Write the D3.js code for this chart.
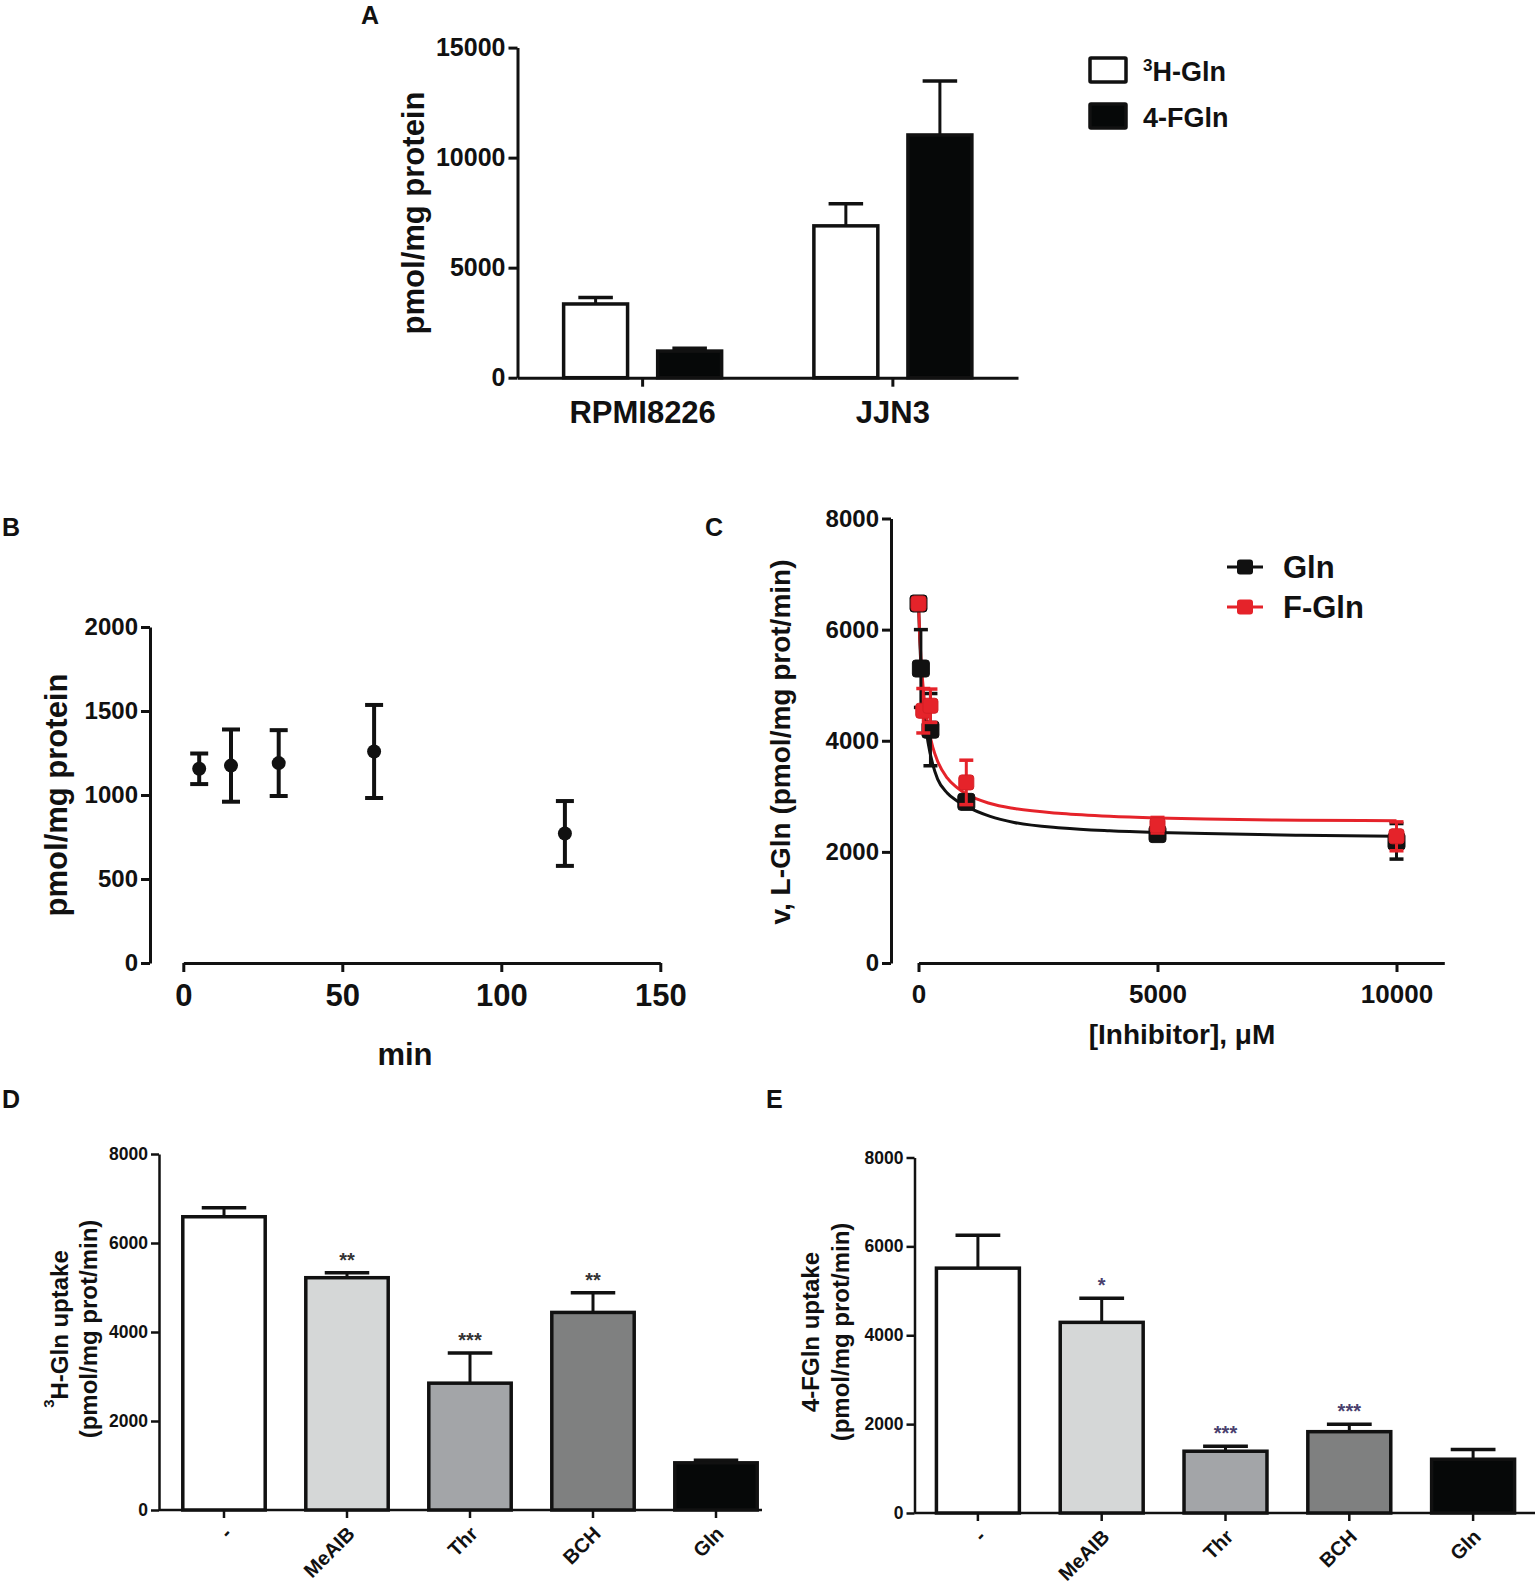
<!DOCTYPE html>
<html><head><meta charset="utf-8">
<script src="https://cdn.jsdelivr.net/npm/d3@7"></script>
<style>
body{margin:0;background:#fff}
svg{display:block}
text{font-family:'Liberation Sans',Arial,Helvetica,sans-serif;font-weight:bold;fill:#111}
</style>
</head><body>
<svg id="fig" width="1535" height="1588"></svg>
<script>
// ---------------- DATA ----------------
// Panel A
const cellLines = ["RPMI8226", "JJN3"];
const tracersA = ["3H-Gln", "4-FGln"];
const uptakeA_3HGln = [3350, 6900];
const uptakeA_3HGln_err = [290, 1000];
const uptakeA_4FGln = [1210, 11030];
const uptakeA_4FGln_err = [125, 2450];
const ticksAy = [0, 5000, 10000, 15000];

// Panel B
const timeB = [5, 15, 30, 60, 120];
const uptakeB = [1156, 1175, 1190, 1259, 771];
const uptakeB_err = [91, 215, 196, 277, 193];
const ticksBy = [0, 500, 1000, 1500, 2000];
const ticksBx = [0, 50, 100, 150];

// Panel C
const concGln = [0, 50, 250, 1000, 5000, 10000];
const vGln = [6470, 5300, 4200, 2900, 2320, 2190];
const vGln_err = [0, 700, 650, 100, 80, 320];
const concFGln = [0, 100, 250, 1000, 5000, 10000];
const vFGln = [6470, 4540, 4630, 3250, 2480, 2280];
const vFGln_err = [0, 400, 300, 400, 140, 260];
const fitConc = [0, 25, 50, 100, 150, 200, 300, 400, 600, 800, 1000, 1500, 2000, 3000, 4000, 5000, 6000, 8000, 10000];
const fitGln  = [6470, 5830, 5350, 4700, 4270, 3970, 3570, 3310, 3060, 2920, 2820, 2640, 2530, 2430, 2380, 2350, 2330, 2300, 2280];
const fitFGln = [6470, 5920, 5500, 4930, 4550, 4260, 3880, 3630, 3330, 3160, 3040, 2870, 2780, 2690, 2640, 2610, 2590, 2570, 2560];
const seriesC = ["Gln", "F-Gln"];
const ticksCy = [0, 2000, 4000, 6000, 8000];
const ticksCx = [0, 5000, 10000];

// Panel D
const inhibitors = ["-", "MeAIB", "Thr", "BCH", "Gln"];
const uptakeD = [6590, 5220, 2850, 4440, 1060];
const uptakeD_err = [200, 110, 680, 440, 60];
const sigD = ["", "**", "***", "**", ""];
// Panel E
const uptakeE = [5510, 4290, 1390, 1830, 1210];
const uptakeE_err = [740, 540, 110, 170, 220];
const sigE = ["", "*", "***", "***", ""];
const ticksDEy = [0, 2000, 4000, 6000, 8000];

// ---------------- DRAW ----------------
const INK = "#111";
const svg = d3.select("#fig");
const barFills = ["#ffffff", "#d5d7d7", "#a3a5a8", "#7f8080", "#060808"];

function styleAxis(a, sw, fs) {
  a.select(".domain").attr("stroke", INK).attr("stroke-width", sw);
  a.selectAll(".tick line").attr("stroke", INK).attr("stroke-width", sw);
  a.selectAll(".tick text").attr("font-size", fs).attr("fill", INK);
}
function yAxis(scale, x, ticks, fs, sw, tl, pad) {
  const a = svg.append("g").attr("transform", `translate(${x},0)`)
    .call(d3.axisLeft(scale).tickValues(ticks).tickSize(tl).tickSizeOuter(0).tickPadding(pad).tickFormat(d3.format("d")));
  styleAxis(a, sw, fs);
  return a;
}
function panelLetter(t, x, y) {
  svg.append("text").attr("x", x).attr("y", y).attr("font-size", 25).text(t);
}
function rotLabel(x, y, fs, parts) {
  const t = svg.append("text").attr("transform", `translate(${x},${y}) rotate(-90)`)
    .attr("text-anchor", "middle").attr("dominant-baseline", "central").attr("font-size", fs);
  parts.forEach(p => {
    const s = t.append("tspan").text(p.t);
    if (p.sup) s.attr("font-size", fs * 0.62).attr("dy", -fs * 0.4);
    if (p.after) s.attr("dy", fs * 0.4);
  });
  return t;
}

// ===== Panel A =====
panelLetter("A", 361, 24);
const yA = d3.scaleLinear().domain([0, 15000]).range([377.7, 47.6]);
const xA = d3.scaleBand().domain(cellLines).range([517.5, 1018]);
const xAin = d3.scaleBand().domain(tracersA).range([-79, 79]).paddingInner(0.32);
yAxis(yA, 517.5, ticksAy, 25, 3, 9, 3);
{
  const a = svg.append("g").attr("transform", `translate(0,${yA(0)})`)
    .call(d3.axisBottom(xA).tickSize(9).tickSizeOuter(0).tickPadding(8));
  styleAxis(a, 3, 31);
  a.selectAll(".tick text").attr("dy", "0.9em");
}
const valsA = [uptakeA_3HGln, uptakeA_4FGln];
const errsA = [uptakeA_3HGln_err, uptakeA_4FGln_err];
const fillA = ["#ffffff", "#060808"];
tracersA.forEach((tr, si) => {
  cellLines.forEach((c, ci) => {
    const cx = xA(c) + xA.bandwidth() / 2 + xAin(tr);
    const w = xAin.bandwidth();
    const v = valsA[si][ci], e = errsA[si][ci];
    const g = svg.append("g");
    g.append("line").attr("x1", cx + w / 2).attr("x2", cx + w / 2).attr("y1", yA(v)).attr("y2", yA(v + e))
      .attr("stroke", INK).attr("stroke-width", 3);
    g.append("line").attr("x1", cx + w / 2 - w * 0.27).attr("x2", cx + w / 2 + w * 0.27).attr("y1", yA(v + e)).attr("y2", yA(v + e))
      .attr("stroke", INK).attr("stroke-width", 3.5);
    g.append("rect").attr("x", cx).attr("y", yA(v)).attr("width", w).attr("height", yA(0) - yA(v))
      .attr("fill", fillA[si]).attr("stroke", INK).attr("stroke-width", 3.5);
  });
});
// legend A
tracersA.forEach((tr, i) => {
  const y0 = 58 + i * 46;
  svg.append("rect").attr("x", 1090).attr("y", y0).attr("width", 36).attr("height", 24)
    .attr("fill", fillA[i]).attr("stroke", INK).attr("stroke-width", 3.5).attr("rx", 1);
  const t = svg.append("text").attr("x", 1143).attr("y", y0 + 23).attr("font-size", 27);
  if (tr.startsWith("3H")) {
    t.append("tspan").text("3").attr("font-size", 17).attr("dy", -10);
    t.append("tspan").text(tr.slice(1)).attr("dy", 10);
  } else t.text(tr);
});
rotLabel(413, 213, 31, [{t: "pmol/mg protein"}]);

// ===== Panel B =====
panelLetter("B", 2, 536);
const yB = d3.scaleLinear().domain([0, 2000]).range([963, 627]);
const xB = d3.scaleLinear().domain([0, 150]).range([183.3, 660.3]);
yAxis(yB, 150, ticksBy, 24, 3, 9, 3);
{
  const a = svg.append("g").attr("transform", `translate(0,${yB(0)})`)
    .call(d3.axisBottom(xB).tickValues(ticksBx).tickSize(9).tickSizeOuter(0).tickPadding(8).tickFormat(d3.format("d")));
  styleAxis(a, 3, 31);
  a.selectAll(".tick text").attr("dy", "0.85em");
}
timeB.forEach((t, i) => {
  const x = xB(t), v = uptakeB[i], e = uptakeB_err[i];
  svg.append("line").attr("x1", x).attr("x2", x).attr("y1", yB(v - e)).attr("y2", yB(v + e)).attr("stroke", INK).attr("stroke-width", 4);
  [v - e, v + e].forEach(q => svg.append("line").attr("x1", x - 9).attr("x2", x + 9).attr("y1", yB(q)).attr("y2", yB(q)).attr("stroke", INK).attr("stroke-width", 4));
  svg.append("circle").attr("cx", x).attr("cy", yB(v)).attr("r", 7).attr("fill", INK);
});
svg.append("text").attr("x", 405).attr("y", 1065).attr("text-anchor", "middle").attr("font-size", 31).text("min");
rotLabel(56, 795, 31, [{t: "pmol/mg protein"}]);

// ===== Panel C =====
panelLetter("C", 705, 536);
const yC = d3.scaleLinear().domain([0, 8000]).range([963, 518.5]);
const xC = d3.scaleLinear().domain([0, 11000]).range([918.5, 1444.3]);
yAxis(yC, 891, ticksCy, 24, 3, 9, 3);
{
  const a = svg.append("g").attr("transform", `translate(0,${yC(0)})`)
    .call(d3.axisBottom(xC).tickValues(ticksCx).tickSize(9).tickSizeOuter(0).tickPadding(8).tickFormat(d3.format("d")));
  styleAxis(a, 3, 26);
  a.selectAll(".tick text").attr("dy", "0.9em");
}
const colC = ["#111111", "#e5232a"];
const lineC = d3.line().x(d => xC(d[0])).y(d => yC(d[1])).curve(d3.curveMonotoneX);
[fitGln, fitFGln].forEach((f, si) => {
  svg.append("path").datum(fitConc.map((c, i) => [c, f[i]])).attr("d", lineC)
    .attr("fill", "none").attr("stroke", colC[si]).attr("stroke-width", 3);
});
[[concGln, vGln, vGln_err], [concFGln, vFGln, vFGln_err]].forEach((s, si) => {
  const [cs, vs, es] = s;
  const sz = si === 0 ? 17 : 15;
  cs.forEach((c, i) => {
    const x = xC(c), v = vs[i], e = es[i];
    if (e > 0) {
      svg.append("line").attr("x1", x).attr("x2", x).attr("y1", yC(v - e)).attr("y2", yC(v + e)).attr("stroke", colC[si]).attr("stroke-width", 3);
      [v - e, v + e].forEach(q => svg.append("line").attr("x1", x - 7).attr("x2", x + 7).attr("y1", yC(q)).attr("y2", yC(q)).attr("stroke", colC[si]).attr("stroke-width", 3.5));
    }
    svg.append("rect").attr("x", x - sz / 2).attr("y", yC(v) - sz / 2).attr("width", sz).attr("height", sz)
      .attr("rx", 3).attr("fill", colC[si]).attr("stroke", si === 0 ? "#111" : "#d41f25").attr("stroke-width", 1);
  });
});
// legend C
seriesC.forEach((s, i) => {
  const y = 567 + i * 40;
  svg.append("line").attr("x1", 1227).attr("x2", 1263).attr("y1", y).attr("y2", y).attr("stroke", colC[i]).attr("stroke-width", 3);
  svg.append("rect").attr("x", 1237).attr("y", y - 7.5).attr("width", 16).attr("height", 15).attr("rx", 3).attr("fill", colC[i]);
  svg.append("text").attr("x", 1283).attr("y", y + 11).attr("font-size", 31).text(s);
});
svg.append("text").attr("x", 1182).attr("y", 1044).attr("text-anchor", "middle").attr("font-size", 28).text("[Inhibitor], \u03bcM");
rotLabel(780, 742, 28, [{t: "v, L-Gln (pmol/mg prot/min)"}]);

// ===== Panels D & E =====
function barPanel(opt) {
  const y = d3.scaleLinear().domain([0, 8000]).range([opt.y0, opt.y8]);
  const x = d3.scaleBand().domain(inhibitors).range(opt.xr).paddingInner(0.33).paddingOuter(0.165);
  yAxis(y, opt.ax, ticksDEy, 17.5, 2.5, 8, 3);
  svg.append("line").attr("x1", opt.ax).attr("x2", opt.xEnd).attr("y1", opt.y0).attr("y2", opt.y0).attr("stroke", INK).attr("stroke-width", 2.5);
  const a = svg.append("g").attr("transform", `translate(0,${opt.y0})`)
    .call(d3.axisBottom(x).tickSize(8).tickSizeOuter(0));
  a.select(".domain").remove();
  a.selectAll(".tick line").attr("stroke", INK).attr("stroke-width", 2.5);
  a.selectAll(".tick text").attr("font-size", 20).attr("fill", INK)
    .attr("text-anchor", "end").attr("dy", null).attr("y", 0)
    .attr("transform", "translate(9,25) rotate(-45)");
  const w = x.bandwidth();
  inhibitors.forEach((c, i) => {
    const x0 = x(c), v = opt.vals[i], e = opt.errs[i];
    const cx = x0 + w / 2;
    svg.append("line").attr("x1", cx).attr("x2", cx).attr("y1", y(v)).attr("y2", y(v + e)).attr("stroke", INK).attr("stroke-width", 3);
    svg.append("line").attr("x1", cx - w * 0.27).attr("x2", cx + w * 0.27).attr("y1", y(v + e)).attr("y2", y(v + e)).attr("stroke", INK).attr("stroke-width", 3.5);
    svg.append("rect").attr("x", x0).attr("y", y(v)).attr("width", w).attr("height", opt.y0 - y(v))
      .attr("fill", barFills[i]).attr("stroke", INK).attr("stroke-width", 3.5);
    if (opt.sig[i]) {
      svg.append("text").attr("x", cx).attr("y", y(v + e) - 6).attr("text-anchor", "middle")
        .attr("font-size", 20).attr("font-weight", "normal").style("fill", opt.starCol).text(opt.sig[i]);
    }
  });
}
panelLetter("D", 2, 1108);
barPanel({y0: 1510, y8: 1154, ax: 159, xr: [162.5, 777.5], xEnd: 762, vals: uptakeD, errs: uptakeD_err, sig: sigD, starCol: "#333"});
rotLabel(59, 1329, 24, [{t: "3", sup: true}, {t: "H-Gln uptake", after: true}]);
rotLabel(88, 1329, 24, [{t: "(pmol/mg prot/min)"}]);

panelLetter("E", 766, 1108);
barPanel({y0: 1513, y8: 1157.5, ax: 914.5, xr: [916, 1535], xEnd: 1535, vals: uptakeE, errs: uptakeE_err, sig: sigE, starCol: "#4a3f6e"});
rotLabel(810, 1332, 24, [{t: "4-FGln uptake"}]);
rotLabel(840, 1332, 24, [{t: "(pmol/mg prot/min)"}]);
</script>
</body></html>
